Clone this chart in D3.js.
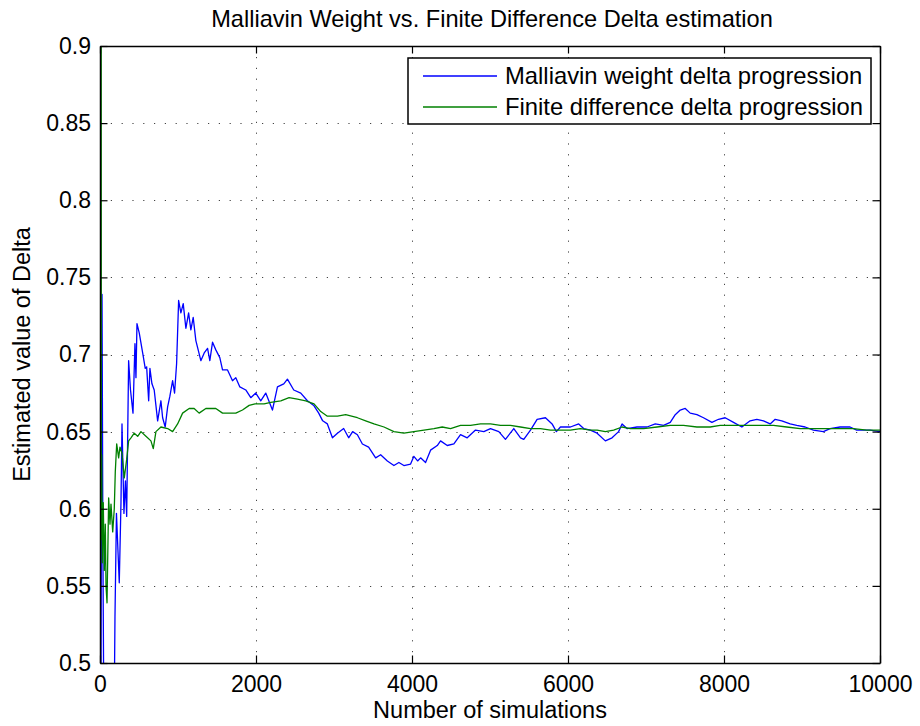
<!DOCTYPE html>
<html>
<head>
<meta charset="utf-8">
<script src="https://cdn.jsdelivr.net/npm/d3@7"></script>
<style>
  html, body { margin: 0; padding: 0; background: #fff; }
  text { font-family: "Liberation Sans", Arial, Helvetica, sans-serif; fill: #000; }
</style>
</head>
<body>
<svg id="chart" width="920" height="726"></svg>
<script>
const titleText = "Malliavin Weight vs. Finite Difference Delta estimation";
const xLabel = "Number of simulations";
const yLabel = "Estimated value of Delta";
const seriesNames = ["Malliavin weight delta progression", "Finite difference delta progression"];
const xTicks = [0, 2000, 4000, 6000, 8000, 10000];
const yTicks = [0.5, 0.55, 0.6, 0.65, 0.7, 0.75, 0.8, 0.85, 0.9];

const malliavinN = [10,26,38,51,179,192,211,247,269,282,307,326,342,367,391,423,448,461,474,503,547,580,598,624,640,666,695,739,781,803,836,867,896,931,956,982,1008,1037,1067,1101,1136,1165,1195,1229,1293,1336,1379,1408,1443,1485,1536,1571,1635,1699,1741,1793,1869,1933,1997,2061,2125,2211,2275,2356,2403,2484,2574,2659,2740,2804,2855,2915,2980,3044,3124,3188,3239,3300,3364,3444,3534,3598,3684,3768,3832,3896,3982,4024,4072,4110,4174,4238,4324,4366,4452,4537,4622,4708,4814,4921,5006,5113,5198,5305,5391,5433,5519,5604,5711,5796,5851,5903,6031,6137,6201,6287,6373,6479,6565,6649,6693,6757,6885,7013,7119,7225,7311,7375,7439,7503,7567,7653,7737,7845,7930,8015,8122,8229,8335,8421,8506,8592,8656,8741,8848,8933,9040,9146,9274,9360,9488,9616,9701,9786,9872,10000];
const malliavinDelta = [0.45,0.739,0.567,0.45,0.45,0.530,0.597,0.552,0.604,0.655,0.597,0.618,0.595,0.696,0.677,0.662,0.707,0.685,0.720,0.714,0.701,0.691,0.692,0.670,0.691,0.681,0.677,0.657,0.670,0.659,0.653,0.666,0.673,0.683,0.675,0.694,0.735,0.727,0.733,0.717,0.727,0.716,0.724,0.709,0.696,0.701,0.704,0.696,0.708,0.703,0.698,0.690,0.690,0.683,0.685,0.679,0.677,0.672,0.675,0.670,0.675,0.664,0.679,0.681,0.684,0.677,0.675,0.670,0.667,0.662,0.657,0.655,0.646,0.649,0.652,0.646,0.650,0.648,0.642,0.640,0.633,0.635,0.631,0.628,0.630,0.628,0.629,0.634,0.631,0.633,0.630,0.638,0.641,0.644,0.641,0.642,0.648,0.646,0.651,0.650,0.652,0.650,0.645,0.652,0.646,0.645,0.651,0.658,0.659,0.655,0.650,0.653,0.653,0.655,0.652,0.651,0.649,0.644,0.646,0.650,0.655,0.652,0.653,0.653,0.655,0.654,0.656,0.661,0.664,0.665,0.662,0.661,0.659,0.656,0.658,0.659,0.656,0.653,0.657,0.658,0.657,0.655,0.658,0.657,0.655,0.654,0.653,0.651,0.650,0.652,0.653,0.653,0.651,0.651,0.651,0.650];

const finiteN = [15,17,22,29,42,55,68,77,90,111,128,141,163,183,196,214,239,256,282,311,342,367,397,439,483,525,589,653,683,717,781,867,931,995,1059,1143,1207,1271,1357,1485,1571,1656,1741,1827,1912,1988,2019,2104,2190,2318,2424,2531,2638,2744,2830,2915,3044,3150,3300,3406,3513,3641,3768,3896,4024,4153,4281,4388,4494,4622,4750,4878,5006,5134,5262,5391,5519,5647,5775,5903,6031,6159,6287,6373,6479,6585,6693,6799,6969,7141,7311,7481,7653,7823,7951,8122,8293,8463,8634,8805,8976,9146,9317,9488,9658,9830,10000];
const finiteDelta = [0.95,0.58,0.635,0.565,0.604,0.56,0.59,0.55,0.539,0.607,0.590,0.603,0.585,0.600,0.624,0.642,0.633,0.640,0.636,0.620,0.632,0.644,0.646,0.649,0.647,0.650,0.647,0.644,0.639,0.650,0.653,0.652,0.650,0.655,0.662,0.665,0.665,0.662,0.665,0.665,0.662,0.662,0.662,0.664,0.667,0.668,0.668,0.668,0.669,0.670,0.672,0.671,0.670,0.668,0.663,0.660,0.660,0.661,0.659,0.657,0.655,0.653,0.650,0.649,0.650,0.651,0.652,0.653,0.652,0.654,0.654,0.655,0.655,0.654,0.654,0.653,0.652,0.652,0.651,0.651,0.651,0.652,0.651,0.651,0.650,0.651,0.653,0.652,0.652,0.653,0.654,0.654,0.653,0.653,0.654,0.654,0.654,0.654,0.654,0.653,0.652,0.652,0.652,0.652,0.652,0.651,0.651];

const colors = ["#0000ff", "#008000"];

(function () {
const svg = d3.select("#chart");
const mL = 100, mR = 880, mT = 46, mB = 663;
const x = d3.scaleLinear().domain([0, 10000]).range([mL, mR]);
const y = d3.scaleLinear().domain([0.5, 0.9]).range([mB, mT]);

svg.append("defs").append("clipPath").attr("id", "clip")
  .append("rect").attr("x", mL).attr("y", mT).attr("width", mR - mL).attr("height", mB - mT);

// grid
const grid = svg.append("g").attr("stroke", "#444").attr("stroke-width", 1).attr("stroke-dasharray", "1.2,9.6");
grid.selectAll(".gx").data(xTicks.slice(1, -1)).enter().append("line")
  .attr("x1", d => Math.round(x(d)) + 0.5).attr("x2", d => Math.round(x(d)) + 0.5)
  .attr("y1", mB).attr("y2", mT);
grid.selectAll(".gy").data(yTicks.slice(1, -1)).enter().append("line")
  .attr("y1", d => Math.round(y(d)) + 0.5).attr("y2", d => Math.round(y(d)) + 0.5)
  .attr("x1", mL).attr("x2", mR);

// lines
const plot = svg.append("g").attr("clip-path", "url(#clip)");
const line = d3.line().x(d => x(d[0])).y(d => y(d[1]));
const series = [d3.zip(malliavinN, malliavinDelta), d3.zip(finiteN, finiteDelta)];
series.forEach((s, i) => {
  plot.append("path").datum(s).attr("d", line)
    .attr("fill", "none").attr("stroke", colors[i]).attr("stroke-width", 1.3)
    .attr("stroke-linejoin", "round");
});

// axes (ticks inward, mirrored)
const tl = 7.5;
const axBottom = d3.axisBottom(x).tickValues(xTicks).tickSizeInner(-tl).tickSizeOuter(0).tickPadding(13).tickFormat(d3.format("d"));
const axTop = d3.axisTop(x).tickValues(xTicks).tickSizeInner(-tl).tickSizeOuter(0).tickFormat("");
const axLeft = d3.axisLeft(y).tickValues(yTicks).tickSizeInner(-tl).tickSizeOuter(0).tickPadding(9).tickFormat(d => String(+d.toFixed(2)));
const axRight = d3.axisRight(y).tickValues(yTicks).tickSizeInner(-tl).tickSizeOuter(0).tickFormat("");

function style(g) {
  g.select(".domain").attr("stroke", "#000").attr("stroke-width", 1.5);
  g.selectAll(".tick line").attr("stroke", "#000").attr("stroke-width", 1.2);
  g.selectAll(".tick text").attr("font-size", "23px").attr("fill", "#000")
    .attr("font-family", "'Liberation Sans', Arial, sans-serif");
}
svg.append("g").attr("transform", `translate(0,${mB})`).call(axBottom).call(style);
svg.append("g").attr("transform", `translate(0,${mT})`).call(axTop).call(style);
svg.append("g").attr("transform", `translate(${mL},0)`).call(axLeft).call(style);
svg.append("g").attr("transform", `translate(${mR},0)`).call(axRight).call(style);

// title and labels
svg.append("text").attr("x", (mL + mR) / 2 + 2).attr("y", 27).attr("text-anchor", "middle")
  .attr("font-size", "23.6px").text(titleText);
svg.append("text").attr("x", (mL + mR) / 2).attr("y", 718).attr("text-anchor", "middle")
  .attr("font-size", "23.5px").text(xLabel);
svg.append("text").attr("transform", `translate(30,${(mT + mB) / 2}) rotate(-90)`)
  .attr("text-anchor", "middle").attr("font-size", "23.5px").text(yLabel);

// legend
const lg = svg.append("g");
lg.append("rect").attr("x", 408).attr("y", 58).attr("width", 463).attr("height", 66)
  .attr("fill", "#fff").attr("stroke", "#000").attr("stroke-width", 1.5);
seriesNames.forEach((name, i) => {
  const yy = 76 + i * 31;
  lg.append("line").attr("x1", 423).attr("x2", 497).attr("y1", yy).attr("y2", yy)
    .attr("stroke", colors[i]).attr("stroke-width", 1.3);
  lg.append("text").attr("x", 505).attr("y", yy).attr("dy", "0.35em")
    .attr("font-size", "23.8px").text(name);
});
})();
</script>
</body>
</html>
